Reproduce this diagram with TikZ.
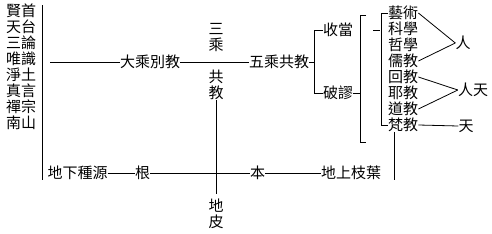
\documentclass[tikz,border=0pt]{standalone}
\usepackage{fontspec}
\newfontfamily\cjk{Noto Sans CJK TC}
\begin{document}
\begin{tikzpicture}[x=1pt,y=-1pt,
  every node/.style={inner sep=0pt, font=\cjk\fontsize{15}{16}\selectfont},
  ln/.style={draw=black, line width=0.8pt},
  vtext/.style={align=center}]
\useasboundingbox[fill=white] (0,0) rectangle (492,233);
% left column
\foreach \t [count=\i from 0] in {賢首,天台,三論,唯識,淨土,真言,禪宗,南山}
  \node (L\i) at (21,{11+16*\i}) {\t};
\coordinate (vt) at (42,5);
\coordinate (vb) at (42,180);
\draw[ln] (vt) -- (vb);
% main line
\coordinate (m0) at (50,62);
\node (dcb) at (150,62) {大乘別教};
\node (wcg) at (279,62) {五乘共教};
\node[vtext] (sc) at (216,37.5) {三\\乘};
\node[vtext] (gj) at (216,85) {共\\教};
\node[vtext] (dp) at (216,214) {地\\皮};
\draw[ln] (m0) -- (dcb.west);
\draw[ln] (dcb.east) -- (wcg.west);
\draw[ln,shorten >=5pt] (gj.south) -- (dp.north);
% bottom row
\node (dxz) at (77.5,173) {地下種源};
\node (gen) at (142.5,173) {根};
\node (ben) at (257.5,173) {本};
\node (dsz) at (351,173) {地上枝葉};
\draw[ln] (dxz.east) -- (gen.west);
\draw[ln] (gen.east) -- (ben.west);
\draw[ln] (ben.east) -- (dsz.west);
% bracket 1
\node (sd) at (338,30) {收當};
\node (pm) at (338,93) {破謬};
\coordinate (b1) at (315,62);
\draw[ln] (wcg.east) -- (b1);
\draw[ln] (sd.west) -- ++(-8,0) |- (pm.west);
% bracket 2
\coordinate (b2t) at (366,15);
\coordinate (b2b) at (366,142);
\draw[ln] (pm.east) -- ++(7,0);
\draw[ln] (b2t) -- ++(-6,0) |- (b2b);
% right items
\foreach \t [count=\i from 0] in {藝術,科學,哲學,儒教,回教,耶教,道教,梵教}
  \node[anchor=west] (R\i) at (388,{13+16*\i}) {\t};
\coordinate (s1) at (373,30);
\draw[ln] (s1) -- ++(7,0);
\draw[ln] (R0.west) -- ++(-7,0) |- (R7.west);
\node (ren) at (463,43) {人};
\node (rt) at (473,90) {人天};
\node (tian) at (466,126) {天};
\draw[ln] (R0.east) -- (ren.west);
\draw[ln] (R3.east) -- (ren.west);
\draw[ln] (R4.east) -- (rt.west);
\draw[ln] (R6.east) -- (rt.west);
\draw[ln] (R7.east) -- (tian.west);
\coordinate (fb) at (394,180);
\draw[ln] (fb |- R7.south) -- (fb);
\end{tikzpicture}
\end{document}
